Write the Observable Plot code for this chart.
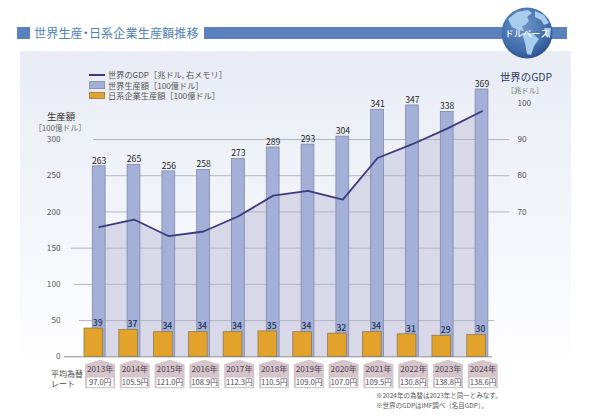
<!DOCTYPE html>
<html lang="ja">
<head>
<meta charset="utf-8">
<script src="https://cdn.jsdelivr.net/npm/d3@7"></script>
<script src="https://cdn.jsdelivr.net/npm/@observablehq/plot@0.6"></script>
<style>
html,body{margin:0;padding:0;background:#fff;}
#page{position:relative;width:590px;height:420px;overflow:hidden;font-family:"Noto Sans CJK JP","Noto Sans",sans-serif;}
#panel{position:absolute;left:20px;top:51px;width:551px;height:342px;background:linear-gradient(#e9ecf5 0%,#f2f4fa 45%,#ffffff 92%);}
#chart{position:absolute;left:0;top:0;}
.abs{position:absolute;white-space:nowrap;line-height:1;}
#sq{left:17px;top:27px;width:13px;height:12px;background:#5a80bd;}
#band{left:204px;top:27px;width:363px;height:12px;background:#5a80bd;}
#title{left:34px;top:26.5px;font-size:12.1px;color:#4f7fb8;font-weight:400;font-feature-settings:"palt";letter-spacing:.1px;}
#globe{left:500px;top:6px;}
.leg{left:108px;font-size:8.2px;color:#555;}
#lg1{left:89px;top:74px;width:16px;height:2px;background:#3d3a80;}
#lg2{left:89px;top:81px;width:16px;height:8px;background:#a3b0d8;box-sizing:border-box;border:1px solid #8a93b5;}
#lg3{left:89px;top:92px;width:16px;height:7px;background:#e3a32b;box-sizing:border-box;border:1px solid #a08a50;}
#lhead{left:31px;width:60px;text-align:center;top:112px;font-size:9.4px;color:#333;}
#lunit{left:30px;width:60px;text-align:center;top:124px;font-size:7.8px;color:#666;}
#rhead{left:496px;width:60px;text-align:center;top:72px;font-size:10.4px;color:#2d3a5c;}
#runit{left:495px;width:60px;text-align:center;top:86px;font-size:7.4px;color:#777;}
#rate1{left:51px;top:370px;font-size:8px;color:#444;}
#rate2{left:51px;top:380px;font-size:8px;color:#444;}
.note{left:376px;font-size:6.5px;color:#555;}
</style>
</head>
<body>
<div id="page">
  <div id="panel"></div>
  <div id="sq" class="abs"></div>
  <div id="band" class="abs"></div>
  <div id="title" class="abs">世界生産・日系企業生産額推移</div>
  <div id="plotHolder"></div>
  <svg id="globe" class="abs" width="54" height="54" viewBox="0 0 54 54">
    <defs>
      <radialGradient id="gl" cx="0.42" cy="0.35" r="0.72">
        <stop offset="0" stop-color="#6f97cc"/><stop offset="0.7" stop-color="#3f6aa8"/><stop offset="1" stop-color="#254a85"/>
      </radialGradient>
    </defs>
    <circle cx="27" cy="27" r="25.5" fill="url(#gl)"/>
    <path d="M8 13 L17 6 L28 4 L32 7 L27 11 L29 15 L25 19 L22 20 L24 25 L18 24 L12 21Z" fill="#a9cdec"/>
    <path d="M22 27 L32 27 L39 33 L34 40 L31 49 L27 48 L25 37Z" fill="#a9cdec"/>
    <path d="M35 5 L44 9 L49 17 L44 19 L41 14 L35 11Z" fill="#a9cdec"/>
    <path d="M44 22 L51 22 L50 32 L46 29Z" fill="#a9cdec"/>
    <text x="27" y="30.5" text-anchor="middle" font-size="8.6" font-weight="500" fill="#fff" font-family="'Noto Sans CJK JP',sans-serif" textLength="44">ドルベース</text>
  </svg>
  <div id="lg1" class="abs"></div><div class="abs leg" style="top:70px">世界のGDP［兆ドル, 右メモリ］</div>
  <div id="lg2" class="abs"></div><div class="abs leg" style="top:80.5px">世界生産額［100億ドル］</div>
  <div id="lg3" class="abs"></div><div class="abs leg" style="top:91px">日系企業生産額［100億ドル］</div>
  <div id="lhead" class="abs">生産額</div>
  <div id="lunit" class="abs">［100億ドル］</div>
  <div id="rhead" class="abs">世界のGDP</div>
  <div id="runit" class="abs">［兆ドル］</div>
  <div id="rate1" class="abs">平均為替</div>
  <div id="rate2" class="abs">レート</div>
  <div class="abs note" style="top:391.5px">※2024年の為替は2023年と同一とみなす。</div>
  <div class="abs note" style="top:401.5px">※世界のGDPはIMF調べ（名目GDP）。</div>
</div>
<script>
const years = [2013,2014,2015,2016,2017,2018,2019,2020,2021,2022,2023,2024];
const worldOutput = [263,265,256,258,273,289,293,304,341,347,338,369];
const japanOutput = [39,37,34,34,34,35,34,32,34,31,29,30];
const worldGdp = [65.8,67.9,63.3,64.6,68.8,74.5,75.8,73.4,84.9,88.7,93.0,97.8];
const fxRates = ["97.0","105.5","121.0","108.9","112.3","110.5","109.0","107.0","109.5","130.8","138.8","138.6"];
const leftTicks = [0,50,100,150,200,250,300];
const rightTicks = [70,80,90,100];

const gdpToLeft = g => (g - 30) * 5;
const rows = years.map((year,i)=>({year,c:year+.5,world:worldOutput[i],japan:japanOutput[i],gdp:gdpToLeft(worldGdp[i]),fx:fxRates[i]}));

const pentagon = {draw(c){c.moveTo(0,-8.5);c.lineTo(15,-4);c.lineTo(15,20);c.lineTo(-15,20);c.lineTo(-15,-4);c.closePath();}};
const box = {draw(c){c.rect(-13.5,-5,27,10);}};
const grid = "#b3b5c4";

const chart = Plot.plot({
  width:590,height:420,
  marginLeft:61,marginRight:76,marginTop:0,marginBottom:0,
  style:{background:"transparent",fontFamily:"'Noto Sans CJK JP','Noto Sans',sans-serif"},
  x:{domain:[2013,2025],range:[81.3,498.9],axis:null},
  y:{domain:[0,300],range:[356.3,139],axis:null},
  marks:[
    Plot.areaY(rows,{x:"c",y:"gdp",fill:"#d9d8e9"}),
    Plot.ruleY([200,250,300],{x1:2013.34,x2:2025.3,stroke:grid,strokeWidth:1}),
    Plot.ruleY([150],{x1:2012.7,x2:2024.68,stroke:grid,strokeWidth:1}),
    Plot.ruleY([100],{x1:2012.79,x2:2024.68,stroke:grid,strokeWidth:1}),
    Plot.ruleY([50],{x1:2012.93,x2:2024.86,stroke:grid,strokeWidth:1}),
    Plot.rectY(rows,{x:"year",interval:1,y:"world",fill:"#a3b0d8",stroke:"#8088a8",strokeWidth:.8,insetLeft:11,insetRight:11}),
    Plot.ruleY([0],{x1:2012.5,x2:2024.8,stroke:"#8a8a90",strokeWidth:1}),
    Plot.line(rows,{x:"c",y:"gdp",stroke:"#3d3a80",strokeWidth:1.8}),
    Plot.rectY(rows,{x:"year",interval:1,y:"japan",fill:"#e3a32b",stroke:"#8a7a50",strokeWidth:.8,insetLeft:2.7,insetRight:13.4}),
    Plot.text(rows,{x:"c",y:"world",text:d=>String(d.world),dy:-5.5,fontSize:8.6,fill:"#222"}),
    Plot.text(rows,{x:"c",y:"japan",text:d=>String(d.japan),dx:-1.5,dy:-5.6,fontSize:8.6,fontWeight:500,fill:"#25304f"}),
    Plot.axisY({anchor:"left",ticks:leftTicks,tickSize:0,tickPadding:1,label:null,fontSize:8.2,color:"#555"}),
    Plot.axisY({anchor:"right",ticks:rightTicks.map(gdpToLeft),tickFormat:v=>String(v/5+30),tickSize:0,tickPadding:3,label:null,fontSize:8.2,color:"#555"}),
    Plot.dot(rows,{x:"c",y:()=>0,symbol:pentagon,r:1,fill:"#d6c6cc",stroke:null,dx:.8,dy:11.5}),
    Plot.dot(rows,{x:"c",y:()=>0,symbol:box,r:1,fill:"#fff",stroke:"#c4b4ba",strokeWidth:.5,dx:1,dy:25.4}),
    Plot.text(rows,{x:"c",y:()=>0,text:d=>d.year+"年",dx:1,dy:13,fontSize:8.2,fill:"#4d4550"}),
    Plot.text(rows,{x:"c",y:()=>0,text:d=>d.fx+"円",dx:1,dy:25.4,fontSize:7.6,fill:"#4d4550"})
  ]
});
chart.style.cssText += ";position:absolute;left:0;top:0;";
chart.id="chart";
document.getElementById("plotHolder").replaceWith(chart);
</script>
</body>
</html>
